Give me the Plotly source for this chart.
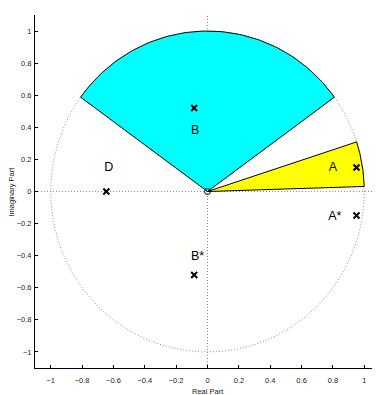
import numpy as np
import plotly.graph_objects as go

# Poles (x markers)
pole_re = [0.95, 0.95, -0.085, -0.085, -0.645]
pole_im = [0.15, -0.15, 0.52, -0.52, 0.0]
# Zero (o marker)
zero_re = [0.0]
zero_im = [0.0]
# Region labels
label_text = ["A", "A*", "B", "B*", "D"]
label_x = [0.80, 0.812, -0.079, -0.063, -0.630]
label_y = [0.149, -0.156, 0.375, -0.407, 0.147]
# Wedges (angles in degrees, radius)
wedge_cyan = (36.0, 144.0, 1.0)
wedge_yellow = (1.8, 18.0, 1.0)
tick_vals = [-1, -0.8, -0.6, -0.4, -0.2, 0, 0.2, 0.4, 0.6, 0.8, 1]
tick_text = ["\u22121", "\u22120.8", "\u22120.6", "\u22120.4", "\u22120.2", "0", "0.2", "0.4", "0.6", "0.8", "1"]
axis_range = [-1.1, 1.1]

DOT = dict(color="#8c8c8c", width=1, dash="1px,2px")
FONT = "Liberation Sans, Arial"

fig = go.Figure()

# dotted axes lines
fig.add_trace(go.Scatter(x=axis_range, y=[0, 0], mode="lines", line=DOT, hoverinfo="skip"))
fig.add_trace(go.Scatter(x=[0, 0], y=axis_range, mode="lines", line=DOT, hoverinfo="skip"))
# unit circle
t = np.linspace(0, 2 * np.pi, 361)
fig.add_trace(go.Scatter(x=np.cos(t), y=np.sin(t), mode="lines", line=DOT, hoverinfo="skip"))


def wedge(a0, a1, r):
    th = np.radians(np.linspace(a0, a1, 80))
    xs = np.concatenate([[0], r * np.cos(th), [0]])
    ys = np.concatenate([[0], r * np.sin(th), [0]])
    return xs, ys


for (a0, a1, r), col in [(wedge_cyan, "#00ffff"), (wedge_yellow, "#ffff00")]:
    xs, ys = wedge(a0, a1, r)
    fig.add_trace(go.Scatter(x=xs, y=ys, mode="lines", fill="toself", fillcolor=col,
                             line=dict(color="black", width=1), hoverinfo="skip"))

fig.add_trace(go.Scatter(x=pole_re, y=pole_im, mode="markers",
                         marker=dict(symbol="x-thin", size=6, line=dict(color="black", width=2))))
fig.add_trace(go.Scatter(x=zero_re, y=zero_im, mode="markers",
                         marker=dict(symbol="circle-open", size=6, color="black", line=dict(width=1))))
fig.add_trace(go.Scatter(x=label_x, y=label_y, mode="text", text=label_text,
                         textfont=dict(family=FONT, size=12.5, color="black")))

axis_common = dict(range=axis_range, tickvals=tick_vals, ticktext=tick_text, ticks="inside",
                   ticklen=3, tickcolor="black", showline=True, linecolor="black", linewidth=1,
                   showgrid=False, zeroline=False, mirror=False, automargin=False,
                   tickfont=dict(family=FONT, size=7.5, color="#222"))

# page body has an 8px margin; size the figure so the plot lands where the reference has it
fig.update_layout(
    width=372, height=387,
    margin=dict(l=27, r=0, t=7, b=27, pad=0),
    paper_bgcolor="white", plot_bgcolor="white",
    showlegend=False,
    xaxis=dict(**axis_common, ticklabelstandoff=5),
    yaxis=dict(**axis_common, ticklabelstandoff=1),
    annotations=[
        dict(text="Real Part", x=0.5, y=0, xref="x domain", yref="paper", xanchor="center",
             yanchor="top", yshift=-17.5, showarrow=False, borderpad=0,
             font=dict(family=FONT, size=7.5, color="#222")),
        dict(text="Imaginary Part", x=0, y=0.5, xref="paper", yref="y domain", textangle=-90,
             xanchor="center", yanchor="middle", xshift=-24, showarrow=False, borderpad=0,
             font=dict(family=FONT, size=7.5, color="#222")),
    ],
)

fig.write_html("out.html")
